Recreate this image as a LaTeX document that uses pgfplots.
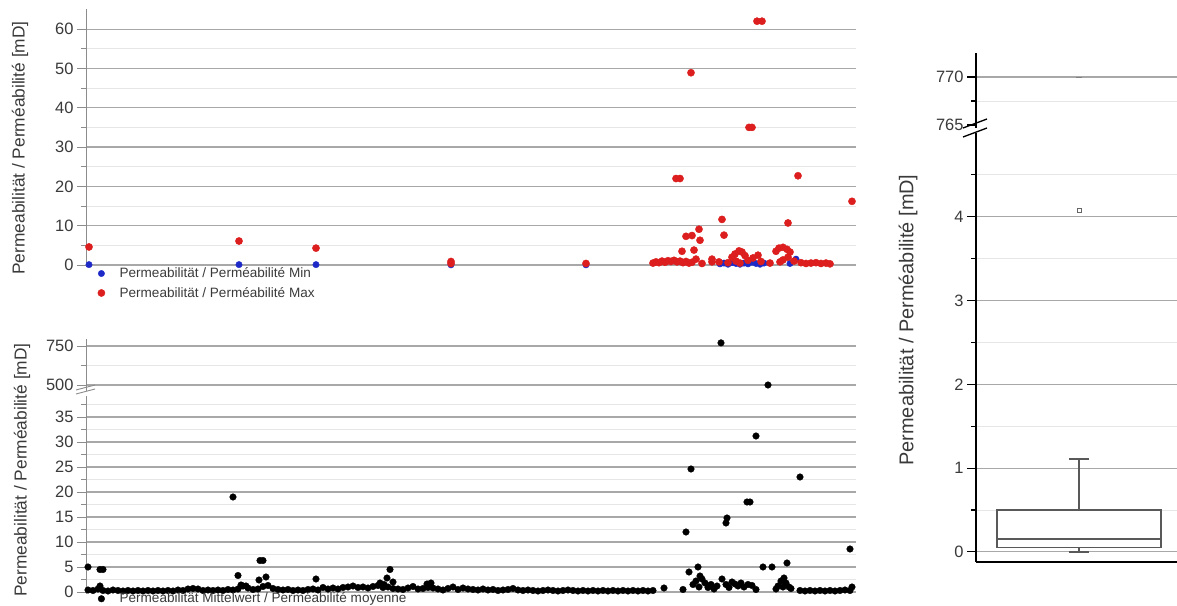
\documentclass[border=0pt]{standalone}
\usepackage{pgfplots}
\pgfplotsset{compat=1.18}
\usepgfplotslibrary{statistics}
\usepackage{fontspec}
\setmainfont{Liberation Sans}
\definecolor{majgrid}{HTML}{A8A8A8}
\definecolor{mingrid}{HTML}{E6E6E6}
\definecolor{axgray}{HTML}{8C8C8C}
\definecolor{txt}{HTML}{3A3A3A}
\definecolor{mred}{HTML}{DC1E1E}
\definecolor{mblue}{HTML}{1E2AC8}

\pgfplotsset{
  common/.style={
    scale only axis,
    tick align=outside,
    major tick length=9bp, minor tick length=5bp,
    yticklabel style={font=\fontsize{16.5}{18}\selectfont, text=txt},
    /pgf/number format/assume math mode=true,
    clip=false,
    xtick=\empty,
    ymajorgrids, yminorgrids,
    major grid style={draw=majgrid, line width=1.1bp},
    minor grid style={draw=mingrid, line width=0.8bp},
  },
  leftpanel/.style={
    common, width=770bp,
    xmin=0, xmax=770,
    axis x line=none,
    axis y line*=left,
    y axis line style={draw=axgray, line width=0.9bp, -},
    every tick/.style={draw=axgray, line width=0.8bp},
    legend cell align=left,
    legend image code/.code={\path (0bp,0bp) (22bp,0bp); \draw[only marks,##1] plot coordinates {(6bp,0bp)};},
  },
  rightpanel/.style={
    common, width=201bp,
    xmin=0, xmax=1.95,
    axis line style={draw=black, line width=1.5bp, -},
    every tick/.style={draw=black, line width=1.1bp},
  },
  redm/.style={only marks, mark=*, mark size=3.6bp, mark options={draw=mred, fill=mred}},
  bluem/.style={only marks, mark=*, mark size=3.2bp, mark options={draw=mblue, fill=mblue}},
  blackm/.style={only marks, mark=*, mark size=3.3bp, mark options={draw=black, fill=black}},
}

\pgfplotstableread{
x y
3 0.1
153 0.1
230 0.1
365 0.05
500 0.05
634 0.3
638 0.5
642 0.2
646 0.6
650 0.4
654 0.2
658 0.5
662 0.3
666 0.7
670 0.4
674 0.2
678 0.5
704 0.4
710 1.5
}\minData

\pgfplotstableread{
x y
3 4.6
153 6.1
230 4.3
365 0.9
365 0.4
500 0.4
567 0.5
570 0.8
573 0.6
576 1.0
579 0.7
582 1.1
585 0.9
588 1.2
591 0.8
594 1.0
597 0.6
600 0.9
603 0.5
606 0.7
590 22
594 22
596 3.5
605 48.9
600 7.3
606 7.5
608 3.8
610 1.5
613 9.1
614 6.3
616 0.4
626 1.5
626 0.8
636 11.6
638 7.6
633 0.8
642 0.6
646 2.0
649 2.8
653 3.6
656 3.3
659 2.4
650 1.0
654 0.5
662 1.2
667 1.8
672 2.5
675 0.9
663 35
666 35
671 62
676 62
684 0.5
690 3.5
693 4.3
697 4.5
701 4.0
704 3.3
697 1.3
702 2.0
694 0.8
702 10.7
712 22.7
708 1.0
715 0.6
720 0.4
725 0.5
730 0.6
735 0.4
740 0.5
744 0.3
766 16.2
}\maxData

\pgfplotstableread{
x y
2 0.4
7 0.3
12 0.6
17 0.3
22 0.2
27 0.4
32 0.3
37 0.2
42 0.3
47 0.2
52 0.3
57 0.2
62 0.3
67 0.2
72 0.3
77 0.2
82 0.3
87 0.2
92 0.4
97 0.3
102 0.6
107 0.7
112 0.6
117 0.3
122 0.4
127 0.3
132 0.4
137 0.3
142 0.5
147 0.4
152 0.6
157 1.2
162 0.8
167 0.5
172 0.6
177 1.1
182 1.3
187 0.7
192 0.5
197 0.4
202 0.5
207 0.3
212 0.4
217 0.3
222 0.5
227 0.6
232 0.4
237 0.9
242 0.6
247 0.8
252 0.6
257 0.9
262 1.0
267 1.2
272 0.9
277 1.0
282 0.8
287 1.1
292 1.3
297 0.9
302 1.0
307 0.7
312 0.6
317 0.5
322 0.8
327 1.1
332 0.6
337 0.7
342 0.9
347 0.8
352 0.6
357 0.4
362 0.7
367 1.0
372 0.5
377 0.8
382 0.6
387 0.5
392 0.4
397 0.6
402 0.4
407 0.5
412 0.3
417 0.4
422 0.5
427 0.7
432 0.4
437 0.3
442 0.4
447 0.3
452 0.2
457 0.3
462 0.4
467 0.3
472 0.2
477 0.3
482 0.4
487 0.3
492 0.2
497 0.3
502 0.2
507 0.3
512 0.2
517 0.3
522 0.2
527 0.3
532 0.2
537 0.3
542 0.2
547 0.3
552 0.2
557 0.3
562 0.2
567 0.3
578 0.8
597 0.5
2 5.0
14 4.5
17 4.5
14 1.2
147 19
152 3.3
174 6.3
177 6.3
173 2.4
180 3.0
155 1.4
160 1.2
230 2.6
304 4.5
301 2.8
307 2.0
294 1.8
298 1.5
341 1.6
345 1.8
670 31.2
605 24.6
714 23
661 18
664 18
641 14.8
640 13.8
600 12
764 8.6
677 5.0
686 5.0
701 5.8
612 5.0
603 4.0
614 3.2
607 1.5
610 2.2
613 1.0
616 2.6
619 1.8
622 0.9
625 1.5
628 0.6
631 1.2
636 2.6
640 1.5
643 0.9
646 2.0
649 1.6
652 1.2
655 1.8
658 1.0
662 1.5
666 1.3
670 0.5
690 0.6
692 1.2
695 2.2
697 1.0
698 2.8
700 1.8
703 1.0
705 0.7
714 0.3
719 0.2
724 0.3
729 0.2
734 0.3
739 0.2
744 0.3
749 0.2
754 0.3
759 0.4
764 0.3
766 1.0
}\meanLow

\pgfplotstableread{
x y
635 770
682 500
}\meanHigh

\begin{document}
\begin{tikzpicture}
\useasboundingbox (0,0) rectangle (1177bp,606bp);

% ---------- top-left: min / max ----------
\begin{axis}[leftpanel,
  at={(86bp,338.6bp)}, anchor=south west, height=258bp,
  ymin=-0.6, ymax=65,
  ytick={0,10,...,60}, minor ytick={5,15,...,55},
  ylabel={Permeabilität / Perméabilité [mD]},
  every axis y label/.style={at={(axis description cs:-0.0857,0.463)}, rotate=90, anchor=center,
     font=\fontsize{17.4}{19}\selectfont, text=txt},
  legend style={at={(axis description cs:0.0117,0.007)}, anchor=north west, draw=none, fill=none,
     font=\fontsize{13.6}{15}\selectfont, text=txt, inner sep=0pt, row sep=4bp},
]
\addplot[bluem] table[x=x,y=y] {\minData};
\addlegendentry{Permeabilität / Perméabilité Min}
\addplot[redm] table[x=x,y=y] {\maxData};
\addlegendentry{Permeabilität / Perméabilité Max}
\end{axis}

% ---------- bottom-left: mean, lower part ----------
\begin{axis}[leftpanel,
  at={(86bp,12bp)}, anchor=south west, height=198bp,
  ymin=-0.4, ymax=39.2,
  ytick={0,5,...,35}, minor ytick={2.5,7.5,...,37.5},
  ylabel={Permeabilität / Perméabilité [mD]},
  every axis y label/.style={at={(axis description cs:-0.083,0.626)}, rotate=90, anchor=center,
     font=\fontsize{17.4}{19}\selectfont, text=txt},
  legend style={at={(axis description cs:0.0117,0.016)}, anchor=north west, draw=none, fill=none,
     font=\fontsize{13.6}{15}\selectfont, text=txt, inner sep=0pt},
]
\addplot[blackm] table[x=x,y=y] {\meanLow};
\addlegendentry{Permeabilität Mittelwert / Perméabilité moyenne}
\end{axis}

% ---------- bottom-left: mean, upper part ----------
\begin{axis}[leftpanel,
  at={(86bp,215bp)}, anchor=south west, height=52bp,
  ymin=461.5, ymax=795,
  ytick={500,750}, minor ytick={625},
]
\addplot[blackm] table[x=x,y=y] {\meanHigh};
\end{axis}

% break marks left
\draw[axgray, line width=0.9bp] (76bp,216bp) -- (95bp,221bp);
\draw[axgray, line width=0.9bp] (76bp,212bp) -- (95bp,217bp);

% ---------- right: box plot, lower part ----------
\begin{axis}[rightpanel,
  at={(976bp,44bp)}, anchor=south west, height=429bp,
  axis x line*=bottom, axis y line*=left,
  ymin=-0.12, ymax=5.0,
  ytick={0,1,2,3,4}, minor ytick={0.5,1.5,2.5,3.5,4.5},
  ylabel={Permeabilität / Perméabilité [mD]},
  every axis y label/.style={at={(axis description cs:-0.3383,0.564)}, rotate=90, anchor=center,
     font=\fontsize{20}{22}\selectfont, text=txt},
  boxplot/draw direction=y,
]
\addplot[boxplot prepared={draw position=1, lower whisker=0, lower quartile=0.05,
   median=0.155, upper quartile=0.5, upper whisker=1.11, box extend=1.59, whisker extend=0.2},
   draw=black!65, line width=1.3bp, fill=white, solid,
   mark=square, mark size=2.2bp, mark options={draw=black!60, fill=white, line width=0.6bp}]
   coordinates {(0,4.08)};
\end{axis}

% ---------- right: box plot, upper part ----------
\begin{axis}[rightpanel,
  at={(976bp,478bp)}, anchor=south west, height=75bp,
  axis x line=none, axis y line*=left,
  ymin=764.69, ymax=772.5,
  ytick={770}, minor ytick={767.5},
  extra y ticks={765}, extra y tick style={grid=none},
]
\addplot[only marks, mark=-, mark size=3bp, mark options={draw=black!50, line width=0.8bp}]
   coordinates {(1,770)};
\end{axis}

% break marks right
\draw[black, line width=1.3bp] (963bp,478bp) -- (987bp,487bp);
\draw[black, line width=1.3bp] (963bp,469bp) -- (987bp,478bp);
\end{tikzpicture}
\end{document}
